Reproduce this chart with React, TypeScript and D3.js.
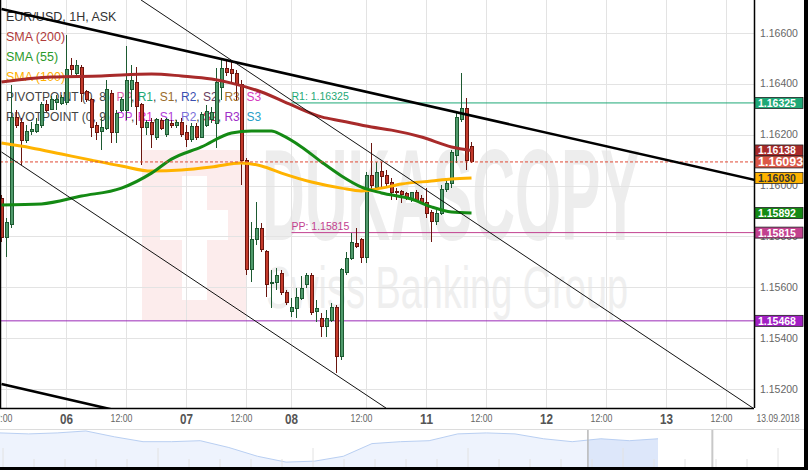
import React from 'react';
import * as d3 from 'd3';

// EUR/USD 1H candles, index 0 = 05.09 11:00 (one candle per hour, weekend gap removed)
const opens = [
  1.15951, 1.15794, 1.15845, 1.16266, 1.1625, 1.16179, 1.16211, 1.16211, 1.16238, 1.16317,
  1.16301, 1.16325, 1.16321, 1.16325, 1.16474, 1.16439, 1.16466, 1.16368, 1.16337, 1.16238,
  1.16211, 1.16226, 1.16364, 1.16207, 1.16297, 1.16297, 1.16376, 1.16407, 1.16317, 1.1623,
  1.1625, 1.16191, 1.16254, 1.16199, 1.16246, 1.16238, 1.1625, 1.16207, 1.16183, 1.16234,
  1.16191, 1.16238, 1.16258, 1.16246, 1.16384, 1.16462, 1.16455, 1.16439, 1.16399, 1.161,
  1.15668, 1.15786, 1.15833, 1.15739, 1.15613, 1.15617, 1.15656, 1.15581, 1.15503, 1.15518,
  1.15554, 1.15609, 1.15648, 1.15503, 1.15479, 1.15444, 1.15471, 1.15522, 1.15326, 1.1566,
  1.15715, 1.15774, 1.15786, 1.15719, 1.16041, 1.15994, 1.16057, 1.16041, 1.16014, 1.15975,
  1.15975, 1.15967, 1.15951, 1.15971, 1.15951, 1.15935, 1.15896, 1.15857, 1.15892, 1.15983,
  1.1601, 1.1612, 1.16258, 1.16305, 1.16152,
];
const highs = [
  1.15963, 1.15872, 1.16396, 1.16297, 1.16266, 1.16238, 1.1625, 1.16266, 1.16329, 1.16337,
  1.16352, 1.16356, 1.16356, 1.16592, 1.16502, 1.16494, 1.16474, 1.16376, 1.16344, 1.1625,
  1.16266, 1.16415, 1.16376, 1.16297, 1.16348, 1.16549, 1.16474, 1.16466, 1.16325, 1.16258,
  1.16266, 1.16266, 1.16266, 1.16266, 1.16258, 1.16258, 1.16266, 1.16238, 1.16246, 1.16246,
  1.16289, 1.16317, 1.16309, 1.16462, 1.16502, 1.16494, 1.16486, 1.16455, 1.16415, 1.16108,
  1.15857, 1.15935, 1.15853, 1.15747, 1.15668, 1.15676, 1.15668, 1.15589, 1.15558, 1.15597,
  1.15644, 1.15656, 1.15656, 1.1555, 1.15499, 1.15511, 1.15538, 1.1553, 1.15676, 1.15739,
  1.15813, 1.15833, 1.15794, 1.16053, 1.16167, 1.16093, 1.16093, 1.16061, 1.1603, 1.1599,
  1.15983, 1.15975, 1.15975, 1.15983, 1.15963, 1.1599, 1.15904, 1.15904, 1.16002, 1.1603,
  1.1614, 1.16285, 1.16443, 1.16344, 1.16171,
];
const lows = [
  1.15778, 1.15719, 1.15833, 1.16226, 1.16081, 1.16167, 1.16199, 1.16207, 1.16226, 1.16289,
  1.16297, 1.16297, 1.16317, 1.16317, 1.16435, 1.16427, 1.16329, 1.16329, 1.16191, 1.16179,
  1.1614, 1.16218, 1.16167, 1.16167, 1.16289, 1.16258, 1.16309, 1.16238, 1.16081, 1.16199,
  1.16148, 1.16179, 1.16218, 1.16191, 1.16226, 1.16226, 1.16191, 1.16152, 1.16171, 1.16179,
  1.16187, 1.1623, 1.16246, 1.16148, 1.16337, 1.16431, 1.16399, 1.16337, 1.16002, 1.15648,
  1.15621, 1.15766, 1.15739, 1.15562, 1.15518, 1.15589, 1.1557, 1.1553, 1.15483, 1.15479,
  1.1555, 1.15597, 1.15491, 1.15463, 1.15404, 1.15404, 1.15463, 1.15263, 1.15314, 1.15648,
  1.15707, 1.15754, 1.15695, 1.15695, 1.15983, 1.15983, 1.1599, 1.15994, 1.15943, 1.15943,
  1.15931, 1.15943, 1.15935, 1.15935, 1.15931, 1.15872, 1.15778, 1.15845, 1.15884, 1.15975,
  1.1599, 1.16089, 1.1625, 1.16061, 1.16089,
];
const closes = [
  1.15794, 1.15853, 1.16266, 1.16238, 1.16179, 1.16211, 1.16222, 1.16242, 1.16317, 1.16297,
  1.1634, 1.1634, 1.16348, 1.16455, 1.16455, 1.16474, 1.16364, 1.1634, 1.1623, 1.16207,
  1.1623, 1.16376, 1.16207, 1.16285, 1.16337, 1.16415, 1.16415, 1.16309, 1.1623, 1.1625,
  1.16199, 1.16258, 1.16226, 1.16258, 1.16238, 1.1625, 1.16199, 1.16183, 1.16234, 1.16191,
  1.16281, 1.16293, 1.16289, 1.16407, 1.16462, 1.16443, 1.16439, 1.16399, 1.161, 1.15668,
  1.15786, 1.15833, 1.15747, 1.15609, 1.15617, 1.15648, 1.15581, 1.15542, 1.15522, 1.15558,
  1.15597, 1.15648, 1.15499, 1.15518, 1.15444, 1.15479, 1.15522, 1.15326, 1.15668, 1.15715,
  1.15778, 1.15762, 1.15719, 1.16041, 1.16002, 1.16053, 1.16034, 1.1601, 1.15971, 1.15971,
  1.15963, 1.15951, 1.15971, 1.15943, 1.15935, 1.15892, 1.15857, 1.15892, 1.15983, 1.1601,
  1.16132, 1.16266, 1.16305, 1.161, 1.16093,
];

// moving averages, read at sample candles
const sma200Idx = [0, 10, 20, 30, 36, 42, 46, 52, 58, 64, 68, 74, 78, 84, 90, 94];
const sma200Vals = [1.16407, 1.16427, 1.16431, 1.16439, 1.16431, 1.16419, 1.16403, 1.16368, 1.16317, 1.1627, 1.16254, 1.1623, 1.16218, 1.16191, 1.16152, 1.16138];
const sma55Idx = [0, 8, 16, 24, 30, 34, 40, 46, 50, 54, 56, 60, 64, 68, 72, 76, 82, 86, 90, 94];
const sma55Vals = [1.15924, 1.15928, 1.15959, 1.1599, 1.16049, 1.16104, 1.16152, 1.16207, 1.16215, 1.16215, 1.16199, 1.16152, 1.16093, 1.16038, 1.15994, 1.15971, 1.15947, 1.15916, 1.15896, 1.15892];
const sma100Idx = [0, 6, 12, 18, 24, 30, 36, 42, 48, 52, 56, 62, 68, 72, 76, 80, 86, 90, 94];
const sma100Vals = [1.16167, 1.16148, 1.16124, 1.161, 1.16077, 1.16057, 1.16061, 1.16073, 1.16089, 1.16077, 1.16049, 1.16014, 1.1599, 1.15979, 1.1599, 1.16006, 1.16018, 1.16026, 1.1603];

// hand drawn trend lines: [idx1, price1, idx2, price2]
const thickLines = [
  [0, 1.16694, 150.7, 1.16022],
  [0, 1.1522, 40, 1.15038],
];
const thinLines = [
  [27.9, 1.1673, 150.3, 1.15125],
  [0, 1.16132, 76.9, 1.15125],
];

const pivotFrom = 58;
const r1Level = 1.16325;
const ppLevel = 1.15815;
const supportLevel = 1.15468;
const lastPrice = 1.16093;
const sma200Last = 1.16138;
const sma100Last = 1.1603;
const sma55Last = 1.15892;

const priceTicks = [1.152, 1.154, 1.156, 1.158, 1.16, 1.162, 1.164, 1.166];
const timeTickIdx = [1, 13, 25, 37, 49, 58, 73, 85, 97, 109, 121, 133, 145];
const timeTickLabels = ['12:00', '06', '12:00', '07', '12:00', '08', '12:00', '11', '12:00', '12', '12:00', '13', '12:00'];
const dateStampIdx = 155.3;
const dateStamp = '13.09.2018';

// navigator overview (long history)
const navValues = [
  1.17022, 1.16962, 1.17022, 1.17141, 1.16784, 1.16486, 1.16486, 1.16546, 1.16129, 1.15594,
  1.15237, 1.15297, 1.15594, 1.16368, 1.16486, 1.16546, 1.16962, 1.17022, 1.16962, 1.16665,
  1.16486, 1.16665, 1.16546, 1.16665,
];
const navWindow = [20.55, 24.9];

const G_FILL = '#4f9a6b';
const G_EDGE = '#1d5a31';
const R_FILL = '#c43a2b';
const R_EDGE = '#6a160f';

const PW = 754;
const PH = 408;

export default function App() {
  const x = d3.scaleLinear().domain([0, 150]).range([1.5, 751.5]);
  const y = d3.scaleLinear().domain([1.152, 1.166]).range([389, 33]);

  const candles = opens.map((o, i) => ({ i, o, h: highs[i], l: lows[i], c: closes[i] }));

  const smaPath = (idx: number[], vals: number[]) =>
    d3
      .line<number>()
      .x((_, j) => x(idx[j]))
      .y((v) => y(v))
      .curve(d3.curveMonotoneX)(vals) || '';

  const nx = d3.scaleLinear().domain([0, navValues.length - 1]).range([0, 658]);
  const ny = d3.scaleLinear().domain([1.15, 1.172]).range([466, 430]);
  const navArea = d3
    .area<number>()
    .x((_, j) => nx(j))
    .y0(467)
    .y1((v) => ny(v))(navValues) || '';
  const navLine = d3
    .line<number>()
    .x((_, j) => nx(j))
    .y((v) => ny(v))(navValues) || '';

  const boxes = [
    { v: r1Level, fill: '#1ea876', text: '#fff', big: false },
    { v: sma200Last, fill: '#a82a2a', text: '#fff', big: false },
    { v: lastPrice, fill: '#dc5848', text: '#fff', big: true },
    { v: sma100Last, fill: '#ffb300', text: '#333', big: false },
    { v: sma55Last, fill: '#148a14', text: '#fff', big: false },
    { v: ppLevel, fill: '#c2418f', text: '#fff', big: false },
    { v: supportLevel, fill: '#a21fc4', text: '#fff', big: false },
  ];

  const pivot1 = [
    ['PP', '#e060a8'], ['R1', '#1ea876'], ['S1', '#9a6c2a'], ['R2', '#3a4fb0'],
    ['S2', '#6a4060'], ['R3', '#a0702a'], ['S3', '#d63cc0'],
  ];
  const pivot2 = [
    ['PP', '#c040e0'], ['R1', '#dd22cc'], ['S1', '#b040d8'], ['R2', '#7a70d8'],
    ['S2', '#d02a60'], ['R3', '#a030c8'], ['S3', '#2aa0c8'],
  ];

  return (
    <svg
      width={808}
      height={470}
      style={{ position: 'absolute', left: 0, top: 0 }}
      fontFamily="'Liberation Sans', Arial, sans-serif"
    >
      <defs>
        <clipPath id="plotClip">
          <rect x={0} y={0} width={PW} height={PH} />
        </clipPath>
        <clipPath id="navClip">
          <rect x={nx(navWindow[0])} y={429} width={nx(navWindow[1]) - nx(navWindow[0])} height={38} />
        </clipPath>
      </defs>
      <rect width={808} height={470} fill="#000" />
      <rect width={804} height={467} fill="#fff" />

      <g clipPath="url(#plotClip)">
        {/* watermark */}
        <rect x={142} y={150} width={105} height={170} fill="#fcecec" />
        <rect x={160} y={210} width={68} height={30} fill="#fff" />
        <rect x={182} y={176} width={25} height={124} fill="#fff" />
        <text x={262} y={240} fontSize={130} fontWeight="bold" fill="#ededed" textLength={378} lengthAdjust="spacingAndGlyphs">
          DUKASCOPY
        </text>
        <text x={266} y={308} fontSize={60} fill="#efefef" textLength={362} lengthAdjust="spacingAndGlyphs">
          Swiss Banking Group
        </text>

        {/* grid */}
        {priceTicks.map((p) => (
          <line key={p} x1={0} x2={PW} y1={Math.round(y(p)) + 0.5} y2={Math.round(y(p)) + 0.5} stroke="#e3e3e3" />
        ))}
        {timeTickIdx.map((k) => (
          <line key={k} x1={x(k)} x2={x(k)} y1={0} y2={PH} stroke="#e3e3e3" />
        ))}

        {/* legend */}
        <g fontSize={12.5}>
          <text x={6} y={21} fill="#333">EUR/USD, 1H, ASK</text>
          <text x={6} y={41} fill="#b03a3a">SMA (200)</text>
          <text x={6} y={61} fill="#2a9a2a">SMA (55)</text>
          <text x={6} y={81} fill="#ffb000">SMA (100)</text>
        </g>
        <g fontSize={12}>
          <text x={6} y={101} fill="#444">
            PIVOTPOINT (0, 8):{' '}
            {pivot1.map(([t, c], j) => (
              <tspan key={t}>
                <tspan fill={c}>{t}</tspan>
                {j < pivot1.length - 1 ? ', ' : ''}
              </tspan>
            ))}
          </text>
          <text x={6} y={121} fill="#444">
            PIVOTPOINT (0, 9):{' '}
            {pivot2.map(([t, c], j) => (
              <tspan key={t}>
                <tspan fill={c}>{t}</tspan>
                {j < pivot2.length - 1 ? ', ' : ''}
              </tspan>
            ))}
          </text>
        </g>

        {/* pivot levels */}
        <line x1={x(pivotFrom)} x2={PW} y1={y(r1Level)} y2={y(r1Level)} stroke="#1ea876" />
        <text x={x(pivotFrom)} y={y(r1Level) - 2.5} fontSize={10.5} fill="#1ea876">
          R1: {r1Level.toFixed(5)}
        </text>
        <line x1={x(pivotFrom)} x2={PW} y1={y(ppLevel)} y2={y(ppLevel)} stroke="#c2418f" />
        <text x={x(pivotFrom)} y={y(ppLevel) - 2.5} fontSize={10.5} fill="#c2418f">
          PP: {ppLevel.toFixed(5)}
        </text>
        <line x1={0} x2={PW} y1={y(supportLevel)} y2={y(supportLevel)} stroke="#9b2ab8" />

        {/* candles */}
        <g shapeRendering="crispEdges">
          {candles.map((d) => {
            const up = d.c >= d.o;
            const cx = x(d.i);
            const top = y(Math.max(d.o, d.c));
            const bot = y(Math.min(d.o, d.c));
            return (
              <g key={d.i}>
                <line x1={cx} x2={cx} y1={y(d.h)} y2={y(d.l)} stroke={up ? G_EDGE : R_EDGE} />
                <rect
                  x={cx - 1.5}
                  y={top}
                  width={3}
                  height={Math.max(bot - top, 1)}
                  fill={up ? G_FILL : R_FILL}
                  stroke={up ? G_EDGE : R_EDGE}
                />
              </g>
            );
          })}
        </g>

        {/* moving averages */}
        <path d={smaPath(sma200Idx, sma200Vals)} fill="none" stroke="#a82a2a" strokeWidth={3} />
        <path d={smaPath(sma100Idx, sma100Vals)} fill="none" stroke="#ffb300" strokeWidth={3} />
        <path d={smaPath(sma55Idx, sma55Vals)} fill="none" stroke="#148a14" strokeWidth={3} />

        {/* last price */}
        <line x1={0} x2={PW} y1={y(lastPrice)} y2={y(lastPrice)} stroke="#e04a35" strokeDasharray="3,2" />

        {/* trend lines */}
        {thickLines.map((l, j) => (
          <line key={'t' + j} x1={x(l[0])} y1={y(l[1])} x2={x(l[2])} y2={y(l[3])} stroke="#000" strokeWidth={2.6} />
        ))}
        {thinLines.map((l, j) => (
          <line key={'n' + j} x1={x(l[0])} y1={y(l[1])} x2={x(l[2])} y2={y(l[3])} stroke="#111" strokeWidth={1} />
        ))}
      </g>

      {/* axes frame */}
      <line x1={0.5} x2={0.5} y1={0} y2={PH} stroke="#000" strokeWidth={1.5} />
      <line x1={0} x2={PW} y1={PH + 0.5} y2={PH + 0.5} stroke="#000" strokeWidth={1.5} />
      <line x1={PW + 0.5} x2={PW + 0.5} y1={0} y2={PH} stroke="#000" strokeWidth={1.5} />

      {/* price axis */}
      {priceTicks.map((p) => (
        <text key={p} x={760} y={y(p) + 3.5} fontSize={10.5} fill="#666">
          {p.toFixed(5)}
        </text>
      ))}
      {boxes.map((b) => {
        const h = b.big ? 12 : 11;
        return (
          <g key={b.v}>
            <rect x={PW + 1} y={y(b.v) - h / 2} width={48} height={h} fill={b.fill} stroke="#222" strokeWidth={0.8} />
            <text
              x={PW + 4}
              y={y(b.v) + (b.big ? 4.5 : 4)}
              fontSize={b.big ? 12.5 : 10.5}
              fontWeight="bold"
              fill={b.text}
            >
              {b.v.toFixed(5)}
            </text>
          </g>
        );
      })}

      {/* time axis */}
      {timeTickIdx.map((k, j) => {
        const day = timeTickLabels[j] !== '12:00';
        return (
          <text
            key={k}
            x={day ? x(k) : x(k) - 5}
            y={day ? 424 : 422}
            textAnchor="middle"
            fontSize={day ? 15 : 11}
            fontWeight={day ? 'bold' : 'normal'}
            fill={day ? '#555' : '#666'}
            textLength={day ? 13 : 22}
            lengthAdjust="spacingAndGlyphs"
          >
            {timeTickLabels[j]}
          </text>
        );
      })}
      <text
        x={x(dateStampIdx)}
        y={422}
        textAnchor="middle"
        fontSize={11}
        fill="#666"
        textLength={43}
        lengthAdjust="spacingAndGlyphs"
      >
        {dateStamp}
      </text>

      {/* navigator */}
      <line x1={0} x2={804} y1={429.5} y2={429.5} stroke="#dcdcdc" />
      <path d={navArea} fill="#eef3fd" />
      <path d={navArea} fill="#dde7fa" clipPath="url(#navClip)" />
      <path d={navLine} fill="none" stroke="#b9cff2" strokeWidth={1} />
      {d3.range(0, 26).map((j) => (
        <line
          key={j}
          x1={3 + j * 31}
          x2={3 + j * 31}
          y1={j % 5 === 0 ? 448 : 459}
          y2={467}
          stroke="#e2e2e2"
        />
      ))}
      <line x1={nx(navWindow[0])} x2={nx(navWindow[0])} y1={430} y2={467} stroke="#b8b8b8" strokeWidth={1.5} />
      <line x1={nx(navWindow[1])} x2={nx(navWindow[1])} y1={430} y2={467} stroke="#c8c8c8" strokeWidth={2} />
    </svg>
  );
}
